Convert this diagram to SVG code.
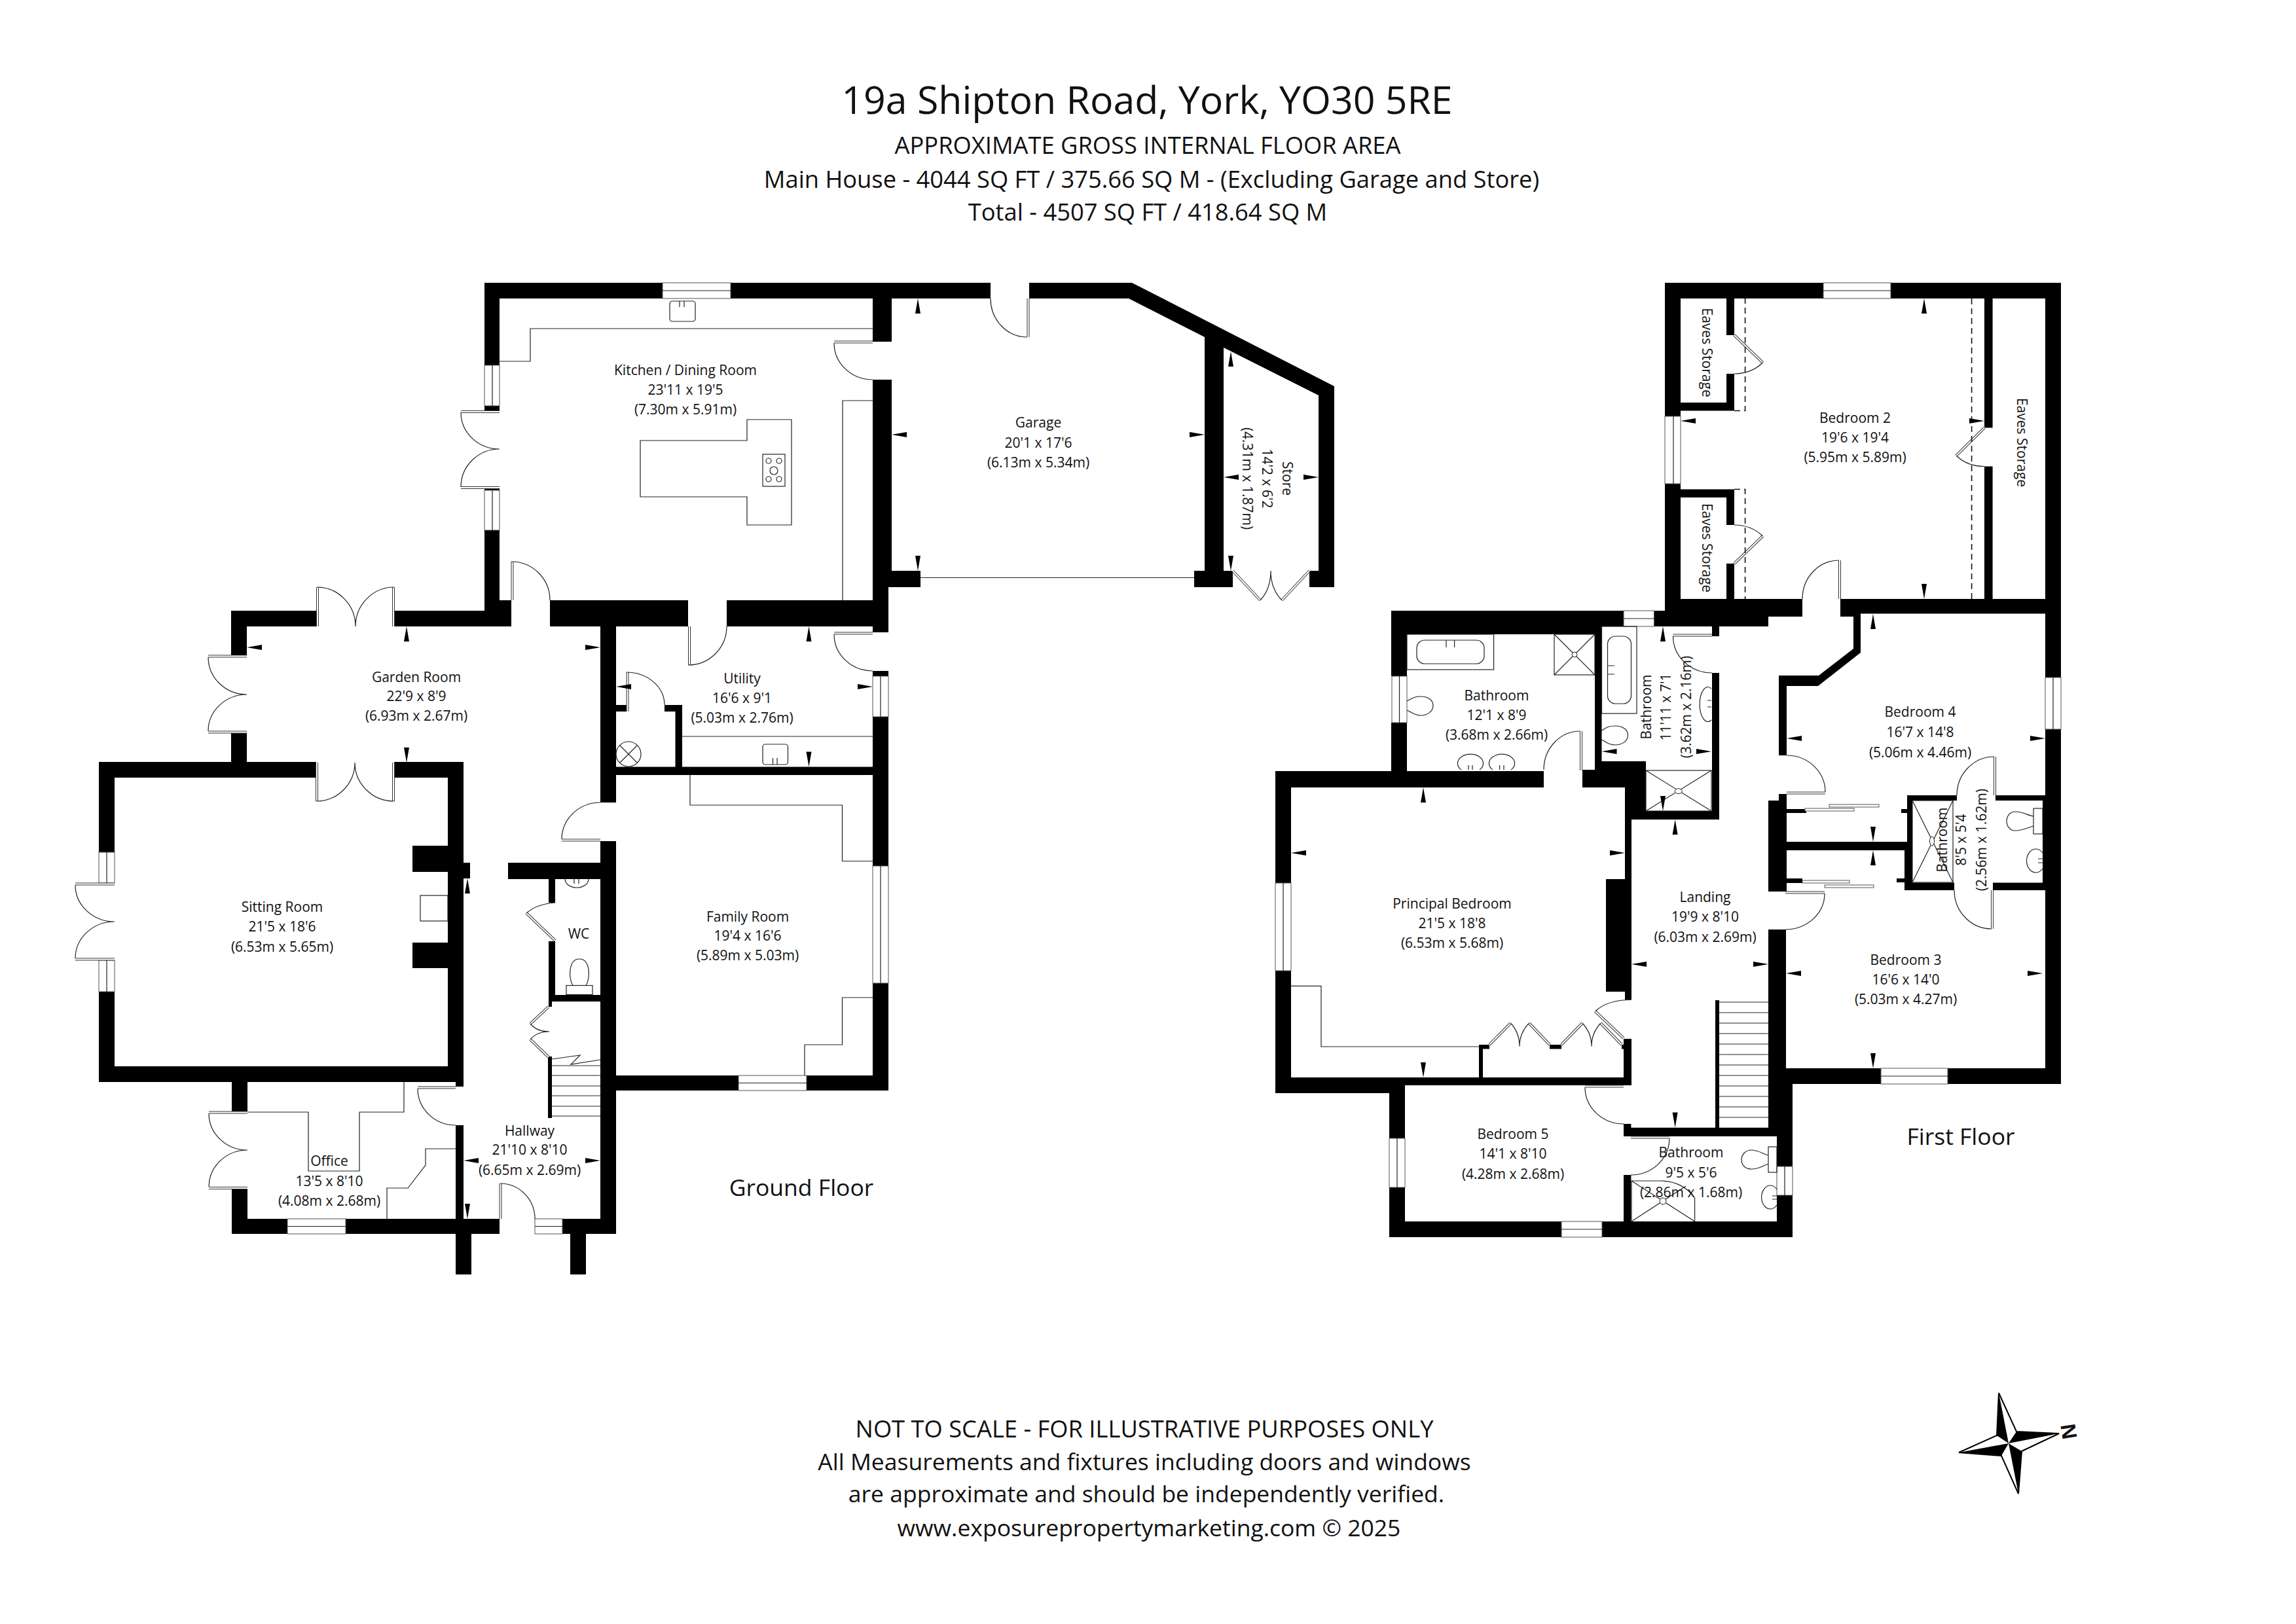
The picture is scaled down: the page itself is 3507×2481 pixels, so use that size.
<svg xmlns="http://www.w3.org/2000/svg" xmlns:xlink="http://www.w3.org/1999/xlink" width="3507" height="2481" viewBox="0 0 3507 2481">
<style>
text{font-family:"Open Sans","Noto Sans","DejaVu Sans",sans-serif;fill:#111;text-anchor:middle}
.l{font-size:21px}
.h{font-size:36.300px}
.f{font-size:35.500px}
.w{fill:#000}
.t{fill:none;stroke:#222;stroke-width:1.2}
.win{fill:#fff;stroke:#555;stroke-width:1}
.pa{fill:none;stroke:#333;stroke-width:4}
.pb{fill:none;stroke:#fff;stroke-width:2}
.dash{fill:none;stroke:#111;stroke-width:1.6;stroke-dasharray:9 6}
</style>
<defs>
<path id="au" d="M0 0L4 23H-4Z"/>
<path id="ad" d="M0 0L4 -23H-4Z"/>
<path id="al" d="M0 0L23 -4V4Z"/>
<path id="ar" d="M0 0L-23 -4V4Z"/>
<path id="leavesG" d="M704 629H763M704 745H763M782.5 858V917M1053 957V1016M1274 522.5H1333M1274 967.5H1333M1570.5 456V515M1883 872L1925 917M2000 872L1958 917M485 897V957M601 897V957M318 1002.5H377M318 1118.5H377M484 1165V1224M601 1165V1224M115 1350.5H175M115 1465.5H175M638 1661.5H696M319 1699.5H378M319 1815H378M764.5 1808V1862M848 1437L804 1395M838 1538L810 1564M838 1615L810 1588M958.5 1027V1087M858 1283.5H917"/>
<path id="leavesF" d="M2649 512L2692.5 554M2649 861L2692.5 819M3031 653.6L2988 696M2810 856V915M2415 1117V1177M2555.5 970.5H2615M2480 1586L2436.6 1545M2275 1596L2307.5 1563M2367 1596L2335.6 1563M2385 1596L2417 1563M2477 1596L2445 1563M2421 1659.5H2480M2491 1737.5H2550M2729 1211.5H2788M2727 1363.5H2787M3047 1156V1215M3043 1360V1419"/>
</defs>

<g id="heading">
<text x="1752" y="174" font-size="59">19a Shipton Road, York, YO30 5RE</text>
<text class="h" x="1753" y="235">APPROXIMATE GROSS INTERNAL FLOOR AREA</text>
<text class="h" x="1759" y="287">Main House - 4044 SQ FT / 375.66 SQ M - (Excluding Garage and Store)</text>
<text class="h" x="1753" y="337">Total - 4507 SQ FT / 418.64 SQ M</text>
</g>

<g id="ground-floor">
<path class="w" d="M740 432H1513V456H740ZM1572 432H1729L2038 590V897H2000V872H2014V604L1869 531V872H1883V897H1824V872H1840V515L1724 456H1572ZM1333 456H1362V522H1333ZM1333 580H1362V872H1406V897H1357V966H1333ZM740 456H763V558H740ZM740 620H763V628H740ZM740 746H763V749H740ZM740 810H763V917H781V957H601V933H740ZM353 933H484V957H377V1002H353ZM840 917H1051V957H840ZM1110 917H1357V957H1110ZM353 1117H377V1164H353ZM151 1164H483V1188H175V1302H151ZM602 1164H708V1660H696V1653H151V1515H175V1629H684V1188H602ZM354 1653H378V1698H354ZM354 1816H378V1862H696V1719H708V1862H763V1885H354ZM859 1862H917V1666H941V1885H859ZM696 1885H720V1947H696ZM871 1885H895V1947H871ZM917 957H941V1226H917ZM917 1285H941V1666H917ZM941 1643H1128V1666H941ZM1232 1643H1333V1502H1357V1666H1232ZM1333 1025H1357V1033H1333ZM1333 1095H1357V1323H1333ZM941 1171.5H1333V1184H941ZM1031.5 1077H1042V1171.5H1031.5ZM1015 1077H1042V1087H1015ZM941 1077H957V1087H941ZM776 1318H917V1343H776ZM838 1343H848V1379H838ZM838 1438H848V1520H917V1530H843V1538H838ZM837 1614H843V1708H837ZM630 1292H684V1332H630ZM630 1440H684V1479H630ZM708 1318H718V1342H708Z"/>
<g id="ground-windows">
<rect class="win" x="1012" y="432" width="104" height="24"/><path class="t" d="M1012 444H1116"/>
<rect class="win" x="740" y="558" width="23" height="62"/><path class="t" d="M752 558V620"/>
<rect class="win" x="740" y="749" width="23" height="61"/><path class="t" d="M752 749V810"/>
<rect class="win" x="151" y="1302" width="24" height="47"/><path class="t" d="M163 1302V1349"/>
<rect class="win" x="151" y="1467" width="24" height="48"/><path class="t" d="M163 1467V1515"/>
<rect class="win" x="439" y="1862" width="89" height="23"/><path class="t" d="M439 1873.500H528"/>
<rect class="win" x="817" y="1862" width="42" height="23"/><path class="t" d="M817 1873.500H859"/>
<rect class="win" x="1333" y="1033" width="24" height="62"/><path class="t" d="M1345 1033V1095"/>
<rect class="win" x="1333" y="1323" width="24" height="179"/><path class="t" d="M1345 1323V1502"/>
<rect class="win" x="1128" y="1643" width="104" height="23"/><path class="t" d="M1128 1654.500H1232"/>
</g>
<g id="ground-doors">
<use href="#leavesG" class="pa"/><use href="#leavesG" class="pb"/>
<path class="t" d="M704 630A59 56 0 0 0 763 686M704 744A59 58 0 0 1 763 686M781 858A59 59 0 0 1 840 917M1051 1016A59 59 0 0 0 1110 957M1274 524A59 56 0 0 0 1333 580M1274 969A59 56 0 0 0 1333 1025M1569 515A56 59 0 0 1 1513 456M1925 917Q1941 900 1941 872M1958 917Q1941 900 1941 872M484 897A59 60 0 0 1 543 957M602 897A59 60 0 0 0 543 957M318 1004A59 57 0 0 0 377 1061M318 1117A59 56 0 0 1 377 1061M483 1224A59 59 0 0 0 542 1165M602 1224A60 59 0 0 1 542 1165M115 1352A60 56 0 0 0 175 1408M115 1464A60 56 0 0 1 175 1408M638 1663A58 56 0 0 0 696 1719M319 1701A59 56 0 0 0 378 1757M319 1813A59 56 0 0 1 378 1757M764 1808A53 54 0 0 1 817 1862M804 1395Q820 1381 848 1379M810 1564Q820 1576 839 1576M810 1588Q820 1576 839 1576M957 1027A58 50 0 0 1 1015 1077M858 1282A59 56 0 0 1 917 1226"/>
</g>
<g id="ground-fixtures">
<path class="t" d="M763 552H810V502H1333M1333 612H1287V917M1141 641H1209V802H1141V759H978V673H1141Z"/>
<rect class="t" x="1023" y="460" width="39" height="31" rx="4"/>
<path class="t" d="M1038 460V469M1045 460V469"/>
<rect class="t" x="1165" y="694" width="34" height="49"/>
<circle class="t" cx="1174" cy="704" r="4"/><circle class="t" cx="1190" cy="704" r="4"/><circle class="t" cx="1182" cy="719" r="6"/><circle class="t" cx="1174" cy="732" r="4"/><circle class="t" cx="1190" cy="732" r="4"/>
<path class="t" d="M1406 882.500H1824"/>
<path class="t" d="M1042 1125H1333M1054 1184V1230H1286.500V1315.500H1333M1333 1524H1286.500V1596H1229V1643"/>
<rect class="t" x="1165" y="1137" width="38.500" height="31" rx="4"/>
<path class="t" d="M1180.500 1158V1168M1187 1158V1168"/>
<circle class="t" cx="960" cy="1152" r="19"/>
<path class="t" d="M947 1139L973 1165M973 1139L947 1165"/>
<path class="t" d="M378 1699H471V1789H549V1699H617V1653M696 1755H650V1780L623 1815H591V1862"/>
<rect class="t" x="642" y="1368" width="42" height="39"/>
<path class="t" d="M863 1343A18 13 0 1 0 899 1343M877 1343V1350M884 1343V1350"/>
<rect class="t" x="865" y="1505.500" width="40" height="14"/>
<path class="t" d="M875 1505.500C868 1495 868 1465 885 1465C902 1465 902 1495 895 1505.500"/>
<path class="t" d="M843 1628H917M843 1643H917M843 1659H917M843 1674H917M843 1690H917M843 1705H917M843 1618L886 1612L872 1626L917 1619"/>
</g>
<g id="ground-arrows">
<use href="#au" x="1402" y="456"/><use href="#al" x="1362" y="664"/><use href="#ar" x="1840" y="664"/><use href="#ad" x="1402" y="872"/>
<use href="#au" x="1880" y="537"/><use href="#al" x="1869" y="729"/><use href="#ar" x="2014" y="729"/><use href="#ad" x="1880" y="872"/>
<use href="#au" x="621" y="957"/><use href="#al" x="377" y="989"/><use href="#ar" x="917" y="989"/><use href="#ad" x="621" y="1165"/>
<use href="#au" x="1235.500" y="957"/><use href="#al" x="941" y="1049"/><use href="#ar" x="1333" y="1049"/><use href="#ad" x="1235.500" y="1171.500"/>
<use href="#al" x="708" y="1773"/><use href="#ar" x="917" y="1773"/><use href="#au" x="714" y="1342"/><use href="#ad" x="714" y="1862"/>
</g>
</g>

<g id="first-floor">
<path class="w" d="M2543 432H2785V456H2567V636H2543ZM2888 432H3148V1035H3124V456H2888ZM2543 739H2567V915H2637V861H2649V915H2753V942H2701V957H2527V942H2543ZM2637 456H2649V512H2637ZM2637 571H2649V627.500H2567V615H2637ZM2567 747.500H2649V802H2637V760H2567ZM3031 456H3043.600V653.600H3031ZM3031 712.500H3043.600V915H3031ZM2811 915H3124V937.500H2842V997L2777 1048H2729V1154H2717V1032H2778L2831 991V942H2811ZM2526.500 933H2543V957H2526.500ZM2125 933H2480V957H2446.500V1163H2514V1239H2615V1028H2626V1252H2491V1203H2417V1176H2436V969H2149V1033H2125ZM2526.500 942H2700V957H2626V972H2615V957H2526.500ZM2125 1104H2149V1178H2358V1203H1972V1349H1948V1178H2125ZM1948 1483H1972V1646H2480V1587H2492V1658H2146V1739H2122V1670H1948ZM2482 1203H2492V1527.500H2482V1515H2453V1343H2482ZM2259 1596H2275V1602.500H2265V1646H2259ZM2367 1596H2385V1602.500H2367ZM2477 1596H2482V1602.500H2477ZM2122 1814H2146V1866H2385V1890H2122ZM2447 1866H2714V1826H2738V1890H2447ZM2480 1717H2491.400V1722.700H2620V1528H2626V1722.700H2701V1420H2728V1632H2873V1656H2738V1782H2714V1736H2480ZM2480 1795H2491.400V1866H2480ZM2975 1632H3124V1114H3148V1656H2975ZM2701 1223H2717V1213H2729V1362H2701ZM2729 1286H2913V1215H2989V1223H2921V1299H2729ZM2909 1299H2921V1348.500H2985V1360H2909ZM3048 1215H3124V1223H3048ZM3044 1348.500H3124V1360H3044ZM2729 1236H2759V1242H2729ZM2904 1236H2913V1242H2904ZM2728 1342H2753V1349H2728ZM2897 1342H2909V1348H2897ZM3120 1223H3124V1348.500H3120Z"/>
<g id="first-windows">
<rect class="win" x="2785" y="432" width="103" height="24"/><path class="t" d="M2785 444H2888"/>
<rect class="win" x="2543" y="636" width="24" height="103"/><path class="t" d="M2556 636V739"/>
<rect class="win" x="2480" y="933" width="46.500" height="24"/><path class="t" d="M2480 945H2526.500"/>
<rect class="win" x="2126" y="1033" width="23" height="71"/><path class="t" d="M2137.500 1033V1104"/>
<rect class="win" x="1948" y="1349" width="24" height="134"/><path class="t" d="M1960 1349V1483"/>
<rect class="win" x="3124" y="1035" width="24" height="79"/><path class="t" d="M3136 1035V1114"/>
<rect class="win" x="2873" y="1632" width="102" height="24"/><path class="t" d="M2873 1644H2975"/>
<rect class="win" x="2122" y="1739" width="24" height="75"/><path class="t" d="M2134 1739V1814"/>
<rect class="win" x="2385" y="1866" width="62" height="24"/><path class="t" d="M2385 1878H2447"/>
<rect class="win" x="2714" y="1782" width="24" height="44"/><path class="t" d="M2726 1782V1826"/>
</g>
<g id="first-doors">
<use href="#leavesF" class="pa"/><use href="#leavesF" class="pb"/>
<path class="t" d="M2692.500 554Q2675 571 2649 571M2692.500 819Q2675 802 2649 802M2988 696Q3005 712.500 3031 712.500M2809 856A56 59 0 0 0 2753 915M2413.500 1117A55.500 59 0 0 0 2358 1176M2555.500 972A59.500 56 0 0 0 2615 1028M2436.600 1545Q2455 1527.500 2491 1527.500M2307.500 1563Q2321 1578 2321 1598.600M2335.600 1563Q2321 1578 2321 1598.600M2417 1563Q2431 1578 2431 1598.600M2445 1563Q2431 1578 2431 1598.600M2421 1661A59 56 0 0 0 2480 1717M2550 1739A59 56 0 0 1 2491 1795M2788 1210A59 56 0 0 0 2729 1154M2787 1365A60 55 0 0 1 2727 1420M3046 1156A57 59 0 0 0 2989 1215M3042 1419A57 59 0 0 1 2985 1360"/>
<rect class="win" x="2794" y="1229" width="76" height="4"/><rect class="win" x="2757" y="1235" width="75" height="4"/>
<rect class="win" x="2753" y="1345" width="72" height="4"/><rect class="win" x="2787" y="1352" width="75" height="4"/>
</g>
<g id="first-fixtures">
<path class="dash" d="M2649 627.500H2665.600V456M2649 747.500H2665.600V915M3011.600 456V915"/>
<path class="t" d="M1972 1506.400H2018V1599H2259"/>
<rect class="t" x="2149" y="969" width="132.600" height="54"/>
<rect class="t" x="2164" y="978" width="103" height="36" rx="12"/>
<path class="t" d="M2209 978V989M2221.600 978V989"/>
<rect class="t" x="2374" y="969" width="62" height="62"/>
<path class="t" d="M2374 969L2436 1031M2436 969L2374 1031"/>
<circle cx="2405" cy="1000" r="4" fill="#fff" stroke="#222"/>
<path class="t" d="M2149 1071C2156 1068 2158 1064 2170 1064C2182 1064 2189 1070 2189 1078C2189 1087 2180 1093 2170 1093C2160 1093 2157 1088 2149 1085"/>
<path class="t" d="M2232 1176A19.600 14 0 1 1 2260 1176M2280 1176A19.600 14 0 1 1 2308 1176M2243 1169V1176M2249 1169V1176M2290.600 1169V1176M2297 1169V1176"/>
<rect class="t" x="2446.500" y="957" width="53.500" height="133"/>
<rect class="t" x="2455.500" y="972" width="36" height="103" rx="12"/>
<path class="t" d="M2455.500 1017H2466M2455.500 1030H2466"/>
<path class="t" d="M2446.500 1116C2453 1112 2456 1109 2467 1109C2479 1109 2486.500 1115 2486.500 1123C2486.500 1132 2478 1138 2467 1138C2456 1138 2453 1133 2446.500 1130"/>
<path class="t" d="M2614 1052A12.500 26.500 0 1 0 2614 1100M2608 1070H2614M2608 1080H2614"/>
<rect class="t" x="2514" y="1177" width="100" height="62"/>
<path class="t" d="M2514 1177L2614 1239M2614 1177L2514 1239"/>
<ellipse cx="2563.700" cy="1208.700" rx="5.500" ry="4" fill="#fff" stroke="#222"/>
<rect class="t" x="2921" y="1223" width="62" height="125"/>
<path class="t" d="M2921 1223L2983 1348M2983 1223L2921 1348"/>
<ellipse cx="2951" cy="1285" rx="3.500" ry="7" fill="#fff" stroke="#222"/>
<rect class="t" x="3106" y="1235" width="14" height="39"/>
<path class="t" d="M3106 1247C3098 1246 3090 1240 3078 1240C3070 1240 3065 1247 3065 1254.500C3065 1262 3070 1269 3078 1269C3090 1269 3098 1264 3106 1262"/>
<path class="t" d="M3120 1303A14 18 0 1 0 3120 1327M3113 1312H3120M3113 1318H3120"/>
<path class="t" d="M2626 1531H2701M2626 1547H2701M2626 1563H2701M2626 1579H2701M2626 1595H2701M2626 1611H2701M2626 1627H2701M2626 1643H2701M2626 1659H2701M2626 1675H2701M2626 1691H2701M2626 1707H2701"/>
<path class="t" d="M2492 1866V1804H2537C2560 1804 2578 1815 2588.600 1830V1866M2492 1804L2588.600 1866M2492 1866L2575 1812"/>
<circle cx="2540" cy="1835" r="5" fill="#fff" stroke="#222"/>
<rect class="t" x="2701" y="1752" width="13" height="39"/>
<path class="t" d="M2701 1765C2693 1763 2686 1757 2675 1757C2666 1757 2660 1764 2660 1772C2660 1780 2666 1786 2675 1786C2686 1786 2693 1781 2701 1778"/>
<path class="t" d="M2714 1817A13.400 18 0 1 0 2714 1841M2707 1827H2714M2707 1832H2714"/>
</g>
<g id="first-arrows">
<use href="#au" x="2939" y="456"/><use href="#al" x="2567" y="643"/><use href="#ar" x="3031" y="643"/><use href="#ad" x="2939" y="915"/>
<use href="#au" x="2174" y="1203"/><use href="#ad" x="2174" y="1646"/><use href="#al" x="1972" y="1303"/><use href="#ar" x="2482" y="1303"/>
<use href="#au" x="2540" y="957"/><use href="#ad" x="2540" y="1239"/><use href="#al" x="2446.500" y="1148"/><use href="#ar" x="2614" y="1148"/>
<use href="#au" x="2558.600" y="1252"/><use href="#ad" x="2558.600" y="1722.500"/><use href="#al" x="2492" y="1473"/><use href="#ar" x="2701" y="1473"/>
<use href="#au" x="2861" y="938"/><use href="#ad" x="2861" y="1286"/><use href="#al" x="2729" y="1128"/><use href="#ar" x="3124" y="1128"/>
<use href="#au" x="2861" y="1299"/><use href="#ad" x="2861" y="1632"/><use href="#al" x="2728" y="1487"/><use href="#ar" x="3120" y="1487"/>
</g>
</g>

<g id="labels">
<g id="kitchen-label"><text class="l" x="1047" y="573">Kitchen / Dining Room</text><text class="l" x="1047" y="603">23'11 x 19'5</text><text class="l" x="1047" y="633">(7.30m x 5.91m)</text></g>
<g id="garage-label"><text class="l" x="1586" y="653">Garage</text><text class="l" x="1586" y="684">20'1 x 17'6</text><text class="l" x="1586" y="714">(6.13m x 5.34m)</text></g>
<g id="store-label" transform="translate(1936 731) rotate(90)"><text class="l" y="-23">Store</text><text class="l" y="8">14'2 x 6'2</text><text class="l" y="38">(4.31m x 1.87m)</text></g>
<g id="garden-label"><text class="l" x="636" y="1042">Garden Room</text><text class="l" x="636" y="1071">22'9 x 8'9</text><text class="l" x="636" y="1101">(6.93m x 2.67m)</text></g>
<g id="utility-label"><text class="l" x="1133.500" y="1044">Utility</text><text class="l" x="1133.500" y="1074">16'6 x 9'1</text><text class="l" x="1133.500" y="1104">(5.03m x 2.76m)</text></g>
<g id="sitting-label"><text class="l" x="431" y="1393">Sitting Room</text><text class="l" x="431" y="1423">21'5 x 18'6</text><text class="l" x="431" y="1454">(6.53m x 5.65m)</text></g>
<g id="family-label"><text class="l" x="1142" y="1408">Family Room</text><text class="l" x="1142" y="1437">19'4 x 16'6</text><text class="l" x="1142" y="1467">(5.89m x 5.03m)</text></g>
<g id="wc-label"><text class="l" x="884" y="1434">WC</text></g>
<g id="office-label"><text class="l" x="503" y="1781">Office</text><text class="l" x="503" y="1812">13'5 x 8'10</text><text class="l" x="503" y="1842">(4.08m x 2.68m)</text></g>
<g id="hallway-label"><text class="l" x="809" y="1735">Hallway</text><text class="l" x="809" y="1764">21'10 x 8'10</text><text class="l" x="809" y="1795">(6.65m x 2.69m)</text></g>
<g id="bed2-label"><text class="l" x="2833.500" y="646">Bedroom 2</text><text class="l" x="2833.500" y="676">19'6 x 19'4</text><text class="l" x="2833.500" y="706">(5.95m x 5.89m)</text></g>
<text class="l" transform="translate(2600 538.600) rotate(90)">Eaves Storage</text>
<text class="l" transform="translate(2600 837) rotate(90)">Eaves Storage</text>
<text class="l" transform="translate(3081 676) rotate(90)">Eaves Storage</text>
<g id="bath1-label"><text class="l" x="2286" y="1070">Bathroom</text><text class="l" x="2286" y="1100">12'1 x 8'9</text><text class="l" x="2286" y="1130">(3.68m x 2.66m)</text></g>
<g id="bath2-label" transform="translate(2545 1080) rotate(-90)"><text class="l" y="-23">Bathroom</text><text class="l" y="7">11'11 x 7'1</text><text class="l" y="38">(3.62m x 2.16m)</text></g>
<g id="bed4-label"><text class="l" x="2933" y="1095">Bedroom 4</text><text class="l" x="2933" y="1126">16'7 x 14'8</text><text class="l" x="2933" y="1157">(5.06m x 4.46m)</text></g>
<g id="ensuite-label" transform="translate(2996 1283) rotate(-90)"><text class="l" y="-22">Bathroom</text><text class="l" y="7">8'5 x 5'4</text><text class="l" y="38">(2.56m x 1.62m)</text></g>
<g id="principal-label"><text class="l" x="2218" y="1388">Principal Bedroom</text><text class="l" x="2218" y="1418">21'5 x 18'8</text><text class="l" x="2218" y="1448">(6.53m x 5.68m)</text></g>
<g id="landing-label"><text class="l" x="2604.500" y="1378">Landing</text><text class="l" x="2604.500" y="1408">19'9 x 8'10</text><text class="l" x="2604.500" y="1439">(6.03m x 2.69m)</text></g>
<g id="bed3-label"><text class="l" x="2911" y="1474">Bedroom 3</text><text class="l" x="2911" y="1504">16'6 x 14'0</text><text class="l" x="2911" y="1534">(5.03m x 4.27m)</text></g>
<g id="bed5-label"><text class="l" x="2311" y="1740">Bedroom 5</text><text class="l" x="2311" y="1770">14'1 x 8'10</text><text class="l" x="2311" y="1801">(4.28m x 2.68m)</text></g>
<g id="bath3-label"><text class="l" x="2583" y="1768">Bathroom</text><text class="l" x="2583" y="1799">9'5 x 5'6</text><text class="l" x="2583" y="1829">(2.86m x 1.68m)</text></g>
<text x="1224" y="1827" font-size="35.500">Ground Floor</text>
<text x="2995" y="1749" font-size="35.500">First Floor</text>
</g>

<g id="footer">
<text class="h" x="1748" y="2196">NOT TO SCALE - FOR ILLUSTRATIVE PURPOSES ONLY</text>
<text class="f" x="1748" y="2246">All Measurements and fixtures including doors and windows</text>
<text class="f" x="1751" y="2295">are approximate and should be independently verified.</text>
<text class="f" x="1755" y="2347">www.exposurepropertymarketing.com © 2025</text>
</g>

<g id="compass">
<path fill="none" stroke="#000" stroke-width="2" d="M3053 2128L3080 2187L3145 2190L3088 2217L3083 2282L3057 2224L2992 2219L3050 2193Z"/>
<path fill="#000" d="M3053 2128L3068 2205L3050 2193ZM3145 2190L3068 2205L3080 2187ZM3083 2282L3068 2205L3088 2217ZM2992 2219L3068 2205L3057 2224Z"/>
<text transform="translate(3160 2187) rotate(81)" y="11" font-size="32" font-weight="700" style="font-family:'Liberation Sans',sans-serif">N</text>
</g>
</svg>
